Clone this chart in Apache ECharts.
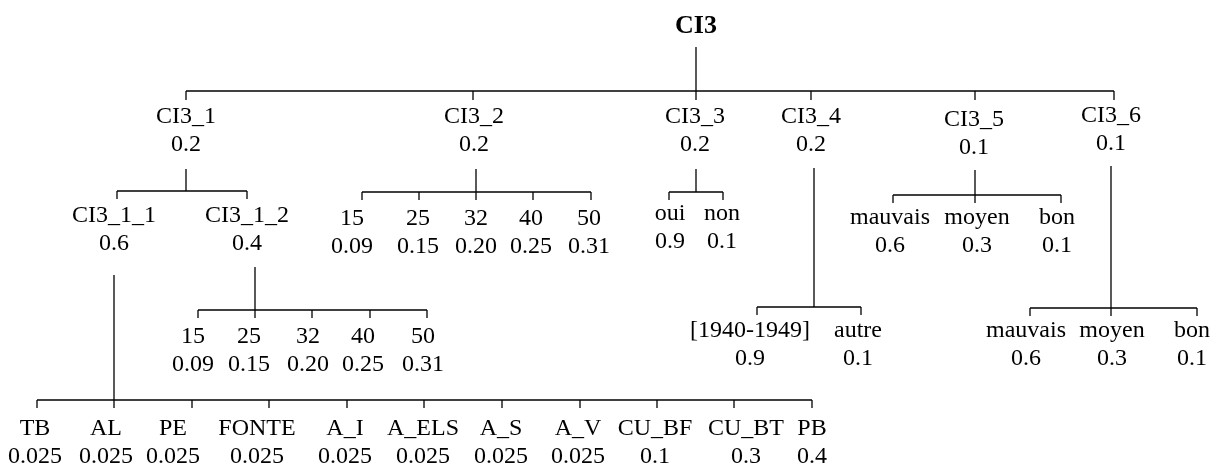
<!DOCTYPE html>
<html>
<head>
<meta charset="utf-8">
<script src="https://cdn.jsdelivr.net/npm/echarts@6/dist/echarts.min.js"></script>
<style>
  html, body { margin: 0; padding: 0; background: #fff; }
  #chart { width: 1219px; height: 469px; }
</style>
</head>
<body>
<div id="chart"></div>
<script>
// tree nodes : names and weights
const rootName = 'CI3';
const level1Names = ['CI3_1', 'CI3_2', 'CI3_3', 'CI3_4', 'CI3_5', 'CI3_6'];
const level1Weights = ['0.2', '0.2', '0.2', '0.2', '0.1', '0.1'];
const ci31Names = ['CI3_1_1', 'CI3_1_2'];
const ci31Weights = ['0.6', '0.4'];
const ci311Names = ['TB', 'AL', 'PE', 'FONTE', 'A_I', 'A_ELS', 'A_S', 'A_V', 'CU_BF', 'CU_BT', 'PB'];
const ci311Weights = ['0.025', '0.025', '0.025', '0.025', '0.025', '0.025', '0.025', '0.025', '0.1', '0.3', '0.4'];
const ci312Names = ['15', '25', '32', '40', '50'];
const ci312Weights = ['0.09', '0.15', '0.20', '0.25', '0.31'];
const ci32Names = ['15', '25', '32', '40', '50'];
const ci32Weights = ['0.09', '0.15', '0.20', '0.25', '0.31'];
const ci33Names = ['oui', 'non'];
const ci33Weights = ['0.9', '0.1'];
const ci34Names = ['[1940-1949]', 'autre'];
const ci34Weights = ['0.9', '0.1'];
const ci35Names = ['mauvais', 'moyen', 'bon'];
const ci35Weights = ['0.6', '0.3', '0.1'];
const ci36Names = ['mauvais', 'moyen', 'bon'];
const ci36Weights = ['0.6', '0.3', '0.1'];

// layout of each branch (positions in axis units)
// xs = tick positions on the bar, lx = label centres
const branches = [
  { names: level1Names, weights: level1Weights, stemX: 696, stemTop: 47, barY: 91, tick: 9,
    xs: [186, 473, 696, 811, 975, 1114], lx: [186, 474, 695, 811, 974, 1111],
    labelY: [131, 131, 131, 131, 134, 130] },
  { names: ci31Names, weights: ci31Weights, stemX: 186, stemTop: 169, barY: 191, tick: 8,
    xs: [117, 247], lx: [114, 247], labelY: 230 },
  { names: ci311Names, weights: ci311Weights, stemX: 114, stemTop: 275, barY: 400, tick: 8,
    xs: [37, 114, 192, 269, 347, 424, 502, 580, 657, 734, 812],
    lx: [35, 106, 173, 257, 345, 423, 501, 578, 655, 746, 812], labelY: 443 },
  { names: ci312Names, weights: ci312Weights, stemX: 255, stemTop: 267, barY: 310, tick: 8,
    xs: [198, 255, 312, 370, 427], lx: [193, 249, 308, 363, 423], labelY: 351 },
  { names: ci32Names, weights: ci32Weights, stemX: 476, stemTop: 169, barY: 192, tick: 8,
    xs: [362, 419, 476, 533, 591], lx: [352, 418, 476, 531, 589], labelY: 233 },
  { names: ci33Names, weights: ci33Weights, stemX: 696, stemTop: 169, barY: 192, tick: 8,
    xs: [669, 723], lx: [670, 722], labelY: 228 },
  { names: ci34Names, weights: ci34Weights, stemX: 814, stemTop: 168, barY: 307, tick: 8,
    xs: [757, 861], lx: [750, 858], labelY: 345 },
  { names: ci35Names, weights: ci35Weights, stemX: 975, stemTop: 170, barY: 195, tick: 8,
    xs: [893, 975, 1061], lx: [890, 977, 1057], labelY: 232 },
  { names: ci36Names, weights: ci36Weights, stemX: 1111, stemTop: 166, barY: 308, tick: 8,
    xs: [1030, 1111, 1197], lx: [1026, 1112, 1192], labelY: 345 }
];

const FONT = '24px "Liberation Serif", "DejaVu Serif", serif';
const chart = echarts.init(document.getElementById('chart'));

// one label item per child node
const labelData = [];
branches.forEach(b => {
  b.names.forEach((n, i) => {
    const y = Array.isArray(b.labelY) ? b.labelY[i] : b.labelY;
    labelData.push({ value: [b.lx[i], y], name: n, weight: b.weights[i] });
  });
});

const lineStyle = { stroke: '#000', lineWidth: 1.3 };

chart.setOption({
  animation: false,
  grid: { left: 0, right: 0, top: 0, bottom: 0 },
  xAxis: { type: 'value', min: 0, max: 1219, show: false },
  yAxis: { type: 'value', min: 0, max: 469, inverse: true, show: false },
  series: [
    {
      // connectors : stem, bar and ticks
      type: 'custom',
      data: branches.map((b, i) => [i]),
      renderItem: function (params, api) {
        const b = branches[params.dataIndex];
        const children = [];
        const seg = (x1, y1, x2, y2) => {
          const p1 = api.coord([x1, y1]);
          const p2 = api.coord([x2, y2]);
          children.push({
            type: 'line',
            shape: { x1: p1[0], y1: p1[1], x2: p2[0], y2: p2[1] },
            style: lineStyle
          });
        };
        seg(b.stemX, b.stemTop, b.stemX, b.barY);
        seg(Math.min(...b.xs), b.barY, Math.max(...b.xs), b.barY);
        b.xs.forEach(x => seg(x, b.barY, x, b.barY + b.tick));
        return { type: 'group', children: children };
      }
    },
    {
      // node labels : name over weight
      type: 'custom',
      data: labelData,
      renderItem: function (params, api) {
        const d = labelData[params.dataIndex];
        const p = api.coord(d.value);
        return {
          type: 'text',
          x: p[0],
          y: p[1],
          style: {
            text: d.name + '\n' + d.weight,
            font: FONT,
            lineHeight: 28,
            fill: '#000',
            align: 'center',
            verticalAlign: 'middle'
          }
        };
      }
    },
    {
      // root
      type: 'custom',
      data: [[696, 26]],
      renderItem: function (params, api) {
        const p = api.coord([api.value(0), api.value(1)]);
        return {
          type: 'text',
          x: p[0],
          y: p[1],
          style: {
            text: rootName,
            font: 'bold 26px "Liberation Serif", serif',
            fill: '#000',
            align: 'center',
            verticalAlign: 'middle'
          }
        };
      }
    }
  ]
});
</script>
</body>
</html>
